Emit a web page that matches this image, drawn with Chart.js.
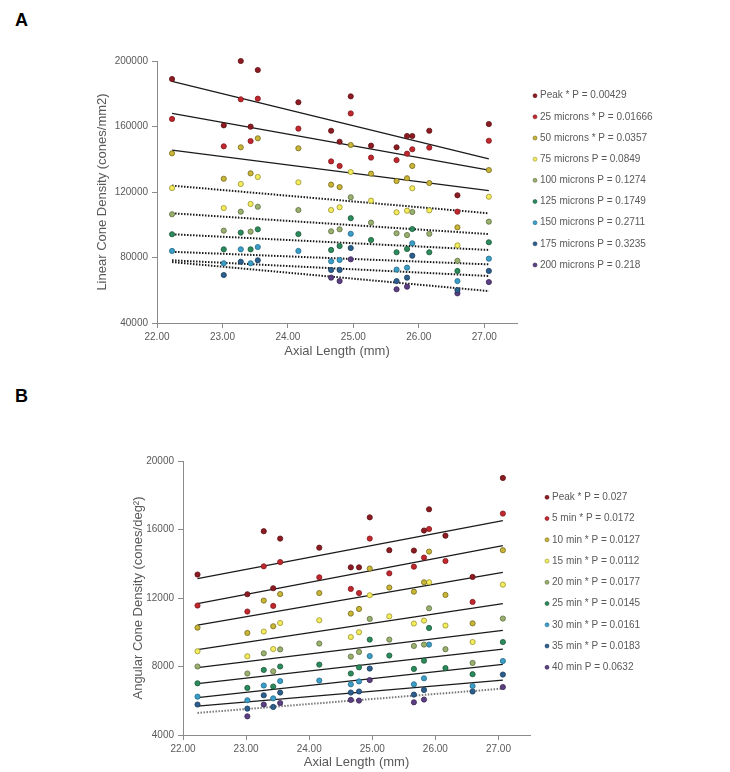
<!DOCTYPE html>
<html>
<head>
<meta charset="utf-8">
<script src="https://cdn.jsdelivr.net/npm/chart.js@4"></script>
<style>
  body { margin: 0; background: #fff; width: 730px; height: 772px; position: relative; overflow: hidden; font-family: "Liberation Sans", Arial, sans-serif; }
  canvas { position: absolute; left: 0; }
  .tag { position: absolute; font-weight: bold; font-size: 18px; color: #000; }
</style>
</head>
<body>
<div class="tag" style="left:15px;top:10px">A</div>
<div class="tag" style="left:15px;top:386px">B</div>
<canvas id="chartA" width="730" height="380" style="top:0"></canvas>
<canvas id="chartB" width="730" height="392" style="top:380px"></canvas>
<script>
// axial length of each eye (mm), shared by both panels
const axialLength = [22.23, 23.02, 23.28, 23.43, 23.54, 24.16, 24.66, 24.79, 24.96, 25.27, 25.66, 25.82, 25.90, 26.16, 26.59, 27.07];
const xTicks = [22, 23, 24, 25, 26, 27];

// Panel A - linear cone density (cones/mm2)
const linearLabels = ['Peak * P = 0.00429', '25 microns * P = 0.01666', '50 microns * P = 0.0357', '75 microns P = 0.0849',
  '100 microns P = 0.1274', '125 microns P = 0.1749', '150 microns P = 0.2711', '175 microns P = 0.3235', '200 microns P = 0.218'];
const linearPeak = [189000, 160700, 200000, 159900, 194500, 174800, 157400, 150700, 178400, 148300, 147300, 154200, 154200, 157400, 118000, 161500];
const linear25 = [164600, 147900, 176600, 151100, 177000, 158700, 138700, 135900, 168000, 141000, 139500, 143400, 146100, 147100, 108000, 151300];
const linear50 = [143600, 128100, 147300, 131400, 152800, 146700, 124500, 123000, 148700, 131200, 126700, 128400, 135900, 125500, 98400, 133400];
const linear75 = [122400, 110200, 124900, 112700, 129200, 125900, 109000, 110700, 132200, 114700, 107600, 108600, 122300, 108800, 87400, 117100];
const linear100 = [106400, 96400, 108000, 95800, 111000, 109000, 96000, 97200, 116800, 101300, 94800, 93700, 107800, 94500, 78000, 101900];
const linear125 = [94200, 85000, 95200, 85000, 97200, 94300, 84600, 87000, 104000, 90700, 83200, 85200, 97400, 83200, 71800, 89300];
const linear150 = [84000, 76500, 85000, 76500, 86400, 84000, 77700, 78500, 94500, null, 72600, 73800, 88700, null, 65600, 79300];
const linear175 = [null, 69300, 77400, null, 78300, null, 72400, 72400, 85800, null, 65600, 67700, 81100, null, 60100, 71800];
const linear200 = [null, null, null, null, null, null, 67700, 65600, 78900, null, 60600, 62200, null, null, 58100, 65000];
// trend lines (value at first and last eye)
const linearTrendStart = [187600, 168000, 145600, 123900, 107000, 94200, 83500, 78300, 77200];
const linearTrendEnd = [140200, 133400, 120800, 107000, 94300, 84600, 75800, 68700, 59500];
const linearDotted = [false, false, false, true, true, true, true, true, true];

// Panel B - angular cone density (cones/deg2)
const angularLabels = ['Peak * P = 0.027', '5 min * P = 0.0172', '10 min * P = 0.0127', '15 min * P = 0.0112',
  '20 min * P = 0.0177', '25 min * P = 0.0145', '30 min * P = 0.0161', '35 min * P = 0.0183', '40 min P = 0.0632'];
const angularPeak = [13370, 12220, 15900, 12570, 15470, 14940, 13790, 13790, 16710, 14790, 14770, 15940, 17180, 15640, 13230, 19010];
const angular5 = [11560, 11210, 13850, 11540, 14100, 13210, 12530, 12290, 15470, 13440, 13830, 14360, 16030, 14160, 11770, 16930];
const angular10 = [10270, 9960, 11850, 10350, 12230, 12290, 11090, 11360, 13720, 12610, 12370, 12920, 14710, 12180, 10520, 14790];
const angular15 = [8890, 8600, 10040, 9020, 10540, 10700, 9720, 10000, 12160, 10930, 10510, 10680, 12920, 10390, 9430, 12780];
const angular20 = [8000, 7590, 8770, 7720, 9000, 9340, 8580, 8850, 10780, 9570, 9200, 9280, 11400, 9010, 8210, 10800];
const angular25 = [7020, 6750, 7800, 6830, 8000, 8110, 7590, 7950, 9570, 8640, 7860, 8340, 10250, 7910, 7550, 9430];
const angular30 = [6240, 6030, 6890, 6140, 7150, 7180, 6960, 7130, 8610, null, 6960, 7310, 9280, null, 6860, 8320];
const angular35 = [5780, 5540, 6320, 5640, 6480, null, 6480, 6540, 7880, null, 6360, 6630, null, null, 6540, 7530];
const angular40 = [null, 5090, 5780, null, 5870, null, 6050, 6010, 7210, null, 5910, 6070, null, null, null, 6800];
const angularTrendStart = [13130, 11670, 10420, 8990, 7940, 7000, 6180, 5690, 5290];
const angularTrendEnd = [16520, 15060, 13500, 11670, 10110, 9010, 8130, 7200, 6710];
const angularDotted = [false, false, false, false, false, false, false, false, true];

const trendX = [22.23, 27.07];

const fills = ['#8c1c22', '#c1272d', '#c9b536', '#f3ed5e', '#9ab06e', '#2c8a5c', '#3c9ec6', '#2c5f8e', '#5b3f82'];
const edges = ['#5e1015', '#7f1a1e', '#76691c', '#9a9230', '#5f6d41', '#1a5a3b', '#23698a', '#1b3c5c', '#3a2754'];

const FONT = '"Liberation Sans", Arial, sans-serif';
const GREY = '#595959';

function buildDatasets(labels, series, tStart, tEnd, dotted, dotColor) {
    const sets = [];
    series.forEach((arr, i) => {
        const pts = [];
        axialLength.forEach((x, j) => {
            if (arr[j] != null) pts.push({ x: x, y: arr[j] });
        });
        sets.push({
            label: labels[i],
            data: pts,
            clip: false,
            backgroundColor: fills[i],
            borderColor: edges[i],
            pointRadius: 2.6,
            pointBorderWidth: 0.8,
            pointHoverRadius: 2.6
        });
    });
    // trend lines go after the points so the points sit on top
    tStart.forEach((v, i) => {
        sets.push({
            isTrend: true,
            label: 'trend ' + i,
            data: [{ x: trendX[0], y: v }, { x: trendX[1], y: tEnd[i] }],
            showLine: true,
            pointRadius: 0,
            borderColor: dotted[i] ? dotColor : '#1a1a1a',
            borderWidth: dotted[i] ? 2 : 1.3,
            borderDash: dotted[i] ? [1.5, 1.5] : []
        });
    });
    return sets;
}

// simple vertical legend to the right of the plot
const sideLegend = {
    id: 'sideLegend',
    afterDraw(chart, args, opts) {
        const ctx = chart.ctx;
        ctx.save();
        ctx.font = '10px ' + FONT;
        ctx.textBaseline = 'middle';
        let n = 0;
        chart.data.datasets.forEach(ds => {
            if (ds.isTrend) return;
            const y = opts.y0 + n * opts.step;
            ctx.beginPath();
            ctx.arc(opts.x, y, 2, 0, Math.PI * 2);
            ctx.fillStyle = ds.backgroundColor;
            ctx.fill();
            ctx.lineWidth = 0.6;
            ctx.strokeStyle = ds.borderColor;
            ctx.stroke();
            ctx.fillStyle = GREY;
            ctx.fillText(ds.label, opts.x + 5, y);
            n++;
        });
        ctx.restore();
    }
};

function makeChart(id, datasets, cfg) {
    return new Chart(document.getElementById(id), {
        type: 'scatter',
        data: { datasets: datasets },
        options: {
            responsive: false,
            animation: false,
            events: [],
            layout: { padding: cfg.padding },
            plugins: {
                legend: { display: false },
                tooltip: { enabled: false },
                sideLegend: cfg.legend
            },
            scales: {
                x: {
                    type: 'linear',
                    min: 22,
                    max: 27.5,
                    afterBuildTicks: ax => { ax.ticks = xTicks.map(v => ({ value: v })); },
                    afterFit: s => { s.height = cfg.xHeight; },
                    ticks: { autoSkip: false, padding: 3, color: GREY, font: { family: FONT, size: 10 }, callback: v => Number(v).toFixed(2) },
                    grid: { drawOnChartArea: false, drawTicks: true, tickLength: 5, color: '#8a8a8a' },
                    border: { color: '#8a8a8a' },
                    title: { display: true, text: 'Axial Length (mm)', color: GREY, padding: { top: 4, bottom: 2 }, font: { family: FONT, size: 13 } }
                },
                y: {
                    min: cfg.yMin,
                    max: cfg.yMax,
                    afterFit: s => { s.width = cfg.yWidth; },
                    ticks: { stepSize: cfg.yStep, padding: 4, color: GREY, font: { family: FONT, size: 10 }, callback: v => String(v) },
                    grid: { drawOnChartArea: false, drawTicks: true, tickLength: 5, color: '#8a8a8a' },
                    border: { color: '#8a8a8a' },
                    title: { display: true, text: cfg.yTitle, color: GREY, padding: { top: 4, bottom: 2 }, font: { family: FONT, size: 13 } }
                }
            }
        },
        plugins: [sideLegend]
    });
}

makeChart('chartA',
    buildDatasets(linearLabels,
        [linearPeak, linear25, linear50, linear75, linear100, linear125, linear150, linear175, linear200],
        linearTrendStart, linearTrendEnd, linearDotted, '#1a1a1a'),
    {
        padding: { left: 91, right: 213, top: 61, bottom: 19 },
        xHeight: 38, yWidth: 66,
        yMin: 40000, yMax: 200000, yStep: 40000,
        yTitle: 'Linear Cone Density (cones/mm2)',
        legend: { x: 535, y0: 95.7, step: 21.16 }
    });

makeChart('chartB',
    buildDatasets(angularLabels,
        [angularPeak, angular5, angular10, angular15, angular20, angular25, angular30, angular35, angular40],
        angularTrendStart, angularTrendEnd, angularDotted, '#7a7a7a'),
    {
        padding: { left: 127, right: 200, top: 81, bottom: 0 },
        xHeight: 37, yWidth: 56,
        yMin: 4000, yMax: 20000, yStep: 4000,
        yTitle: 'Angular Cone Density (cones/deg\u00B2)',
        legend: { x: 547, y0: 117.3, step: 21.25 }
    });
</script>
</body>
</html>
